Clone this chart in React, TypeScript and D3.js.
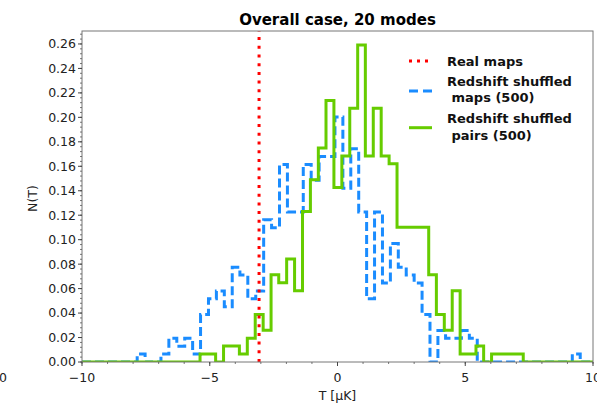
import React from 'react';
import * as d3 from 'd3';

// ---- data ----
const title = 'Overall case, 20 modes';
const xLabel = 'T [\u03bcK]';
const yLabel = 'N(T)';
const xTicks = [-10, -5, 0, 5, 10];
const xTickLabels = ['\u221210', '\u22125', '0', '5', '10'];
const yTicks = [0, 0.02, 0.04, 0.06, 0.08, 0.1, 0.12, 0.14, 0.16, 0.18, 0.2, 0.22, 0.24, 0.26];
const yTickLabels = ['0.00', '0.02', '0.04', '0.06', '0.08', '0.10', '0.12', '0.14', '0.16', '0.18', '0.20', '0.22', '0.24', '0.26'];
const histRange = [-10, 10];
const realMapT = -3.07;

// Redshift shuffled maps (500) - dashed blue step histogram
const mapsEdges = [-7.84, -7.53, -7.22, -6.91, -6.6, -6.29, -5.98, -5.67, -5.36, -5.05, -4.74, -4.43, -4.12, -3.82, -3.51, -3.2, -2.89, -2.58, -2.27, -1.96, -1.65, -1.34, -1.03, -0.72, -0.41, -0.1, 0.21, 0.52, 0.83, 1.14, 1.45, 1.76, 2.07, 2.38, 2.69, 3.0, 3.31, 3.62, 3.93, 4.23, 4.54, 4.85, 5.16, 5.47, 5.78, 6.09, 6.4, 6.71, 7.02, 7.33, 7.64, 7.95, 8.26, 8.57, 8.88, 9.19, 9.5];
const mapsDensity = [0.0065, 0, 0, 0.0065, 0.0194, 0.0129, 0.0194, 0.0065, 0.0388, 0.0517, 0.0581, 0.0452, 0.0775, 0.0711, 0.0517, 0.0581, 0.1163, 0.1098, 0.1615, 0.1227, 0.1227, 0.1615, 0.1486, 0.168, 0.168, 0.2003, 0.1421, 0.1744, 0.1227, 0.0517, 0.1227, 0.0646, 0.0969, 0.0775, 0.0711, 0.0646, 0.0388, 0, 0.0258, 0.0194, 0.0194, 0.0258, 0.0194, 0, 0, 0, 0, 0, 0, 0, 0, 0, 0, 0, 0, 0.0065];

// Redshift shuffled pairs (500) - solid green step histogram
const pairsEdges = [-5.38, -5.07, -4.77, -4.46, -4.15, -3.84, -3.53, -3.22, -2.91, -2.6, -2.3, -1.99, -1.68, -1.37, -1.06, -0.75, -0.45, -0.14, 0.17, 0.48, 0.79, 1.09, 1.4, 1.71, 2.02, 2.33, 2.64, 2.95, 3.26, 3.57, 3.87, 4.18, 4.49, 4.8, 5.11, 5.42, 5.72, 6.03, 6.34, 6.65, 6.96, 7.27];
const pairsDensity = [0.0065, 0.0065, 0, 0.013, 0.013, 0.0065, 0.0194, 0.0389, 0.0259, 0.0713, 0.0648, 0.0842, 0.0583, 0.1231, 0.149, 0.175, 0.2138, 0.1426, 0.1685, 0.2074, 0.2592, 0.1685, 0.2074, 0.1685, 0.162, 0.1102, 0.1102, 0.1102, 0.1102, 0.0713, 0.0389, 0.0259, 0.0583, 0.0065, 0.0065, 0.013, 0, 0.0065, 0.0065, 0.0065, 0.0065];

const legendLabels = [['Real maps'], ['Redshift shuffled', ' maps (500)'], ['Redshift shuffled', ' pairs (500)']];

const W = 597;
const H = 405;
const M = { left: 82, right: 593, top: 31, bottom: 362 };
const FONT = '"DejaVu Sans", sans-serif';
const RED = '#ff0000';
const BLUE = '#1a8cff';
const GREEN = '#66cc00';

export default function App() {
  const x = d3.scaleLinear().domain([-10, 10]).range([M.left, M.right]);
  const y = d3.scaleLinear().domain([0, 0.2706]).range([M.bottom, M.top]);

  const stepPath = (edges: number[], vals: number[]) => {
    const pts: [number, number][] = [];
    pts.push([x(histRange[0]), y(0)]);
    pts.push([x(edges[0]), y(0)]);
    vals.forEach((v, i) => {
      pts.push([x(edges[i]), y(v)]);
      pts.push([x(edges[i + 1]), y(v)]);
    });
    pts.push([x(edges[edges.length - 1]), y(0)]);
    pts.push([x(histRange[1]), y(0)]);
    return d3.line()(pts) || '';
  };

  const yMinor = d3.range(0, 0.2706, 0.004);
  const xMinor = d3.range(-10, 10.01, 1);

  const legX0 = 409;
  const legX1 = 432;
  const legTX = 447;

  return (
    <svg width={W} height={H} style={{ position: 'absolute', left: 0, top: 0, background: '#fff' }} fontFamily={FONT}>
      <rect x={0} y={0} width={W} height={H} fill="#fff" />
      <text x={-1} y={382} fontSize={12.5} textAnchor="middle" fill="#222">10</text>
      <defs>
        <clipPath id="plotclip">
          <rect x={M.left} y={M.top} width={M.right - M.left} height={M.bottom - M.top} />
        </clipPath>
      </defs>
      <g clipPath="url(#plotclip)">
        <path d={stepPath(mapsEdges, mapsDensity)} fill="none" stroke={BLUE} strokeWidth={3} strokeDasharray="9 4" strokeLinejoin="miter" />
        <path d={stepPath(pairsEdges, pairsDensity)} fill="none" stroke={GREEN} strokeWidth={3} strokeLinejoin="miter" />
        <line x1={x(realMapT)} x2={x(realMapT)} y1={M.bottom} y2={M.top} stroke={RED} strokeWidth={3} strokeDasharray="3 5.7" />
      </g>
      {/* frame */}
      <rect x={M.left} y={M.top} width={M.right - M.left} height={M.bottom - M.top} fill="none" stroke="#777" strokeWidth={1} />
      {/* y ticks */}
      {yMinor.map((t, i) => (
        <line key={'ym' + i} x1={M.left - 2} x2={M.left} y1={y(t)} y2={y(t)} stroke="#555" strokeWidth={0.8} />
      ))}
      {yTicks.map((t, i) => (
        <g key={'y' + i}>
          <line x1={M.left - 4} x2={M.left} y1={y(t)} y2={y(t)} stroke="#444" strokeWidth={1} />
          <text x={M.left - 6} y={y(t)} dy="0.35em" fontSize={12.5} textAnchor="end" fill="#222">{yTickLabels[i]}</text>
        </g>
      ))}
      {/* x ticks */}
      {xMinor.map((t, i) => (
        <line key={'xm' + i} x1={x(t)} x2={x(t)} y1={M.bottom} y2={M.bottom + 2} stroke="#555" strokeWidth={0.8} />
      ))}
      {xTicks.map((t, i) => (
        <g key={'x' + i}>
          <line x1={x(t)} x2={x(t)} y1={M.bottom} y2={M.bottom + 4} stroke="#444" strokeWidth={1} />
          <text x={x(t)} y={382} fontSize={12.5} textAnchor="middle" fill="#222">{xTickLabels[i]}</text>
        </g>
      ))}
      <text x={(M.left + M.right) / 2} y={400} fontSize={12.5} textAnchor="middle" fill="#222">{xLabel}</text>
      <text transform={`translate(37,${(M.top + M.bottom) / 2 + 2}) rotate(-90)`} fontSize={12.5} textAnchor="middle" fill="#222">{yLabel}</text>
      <text x={(M.left + M.right) / 2} y={25} fontSize={15} fontWeight="bold" textAnchor="middle" fill="#000">{title}</text>
      {/* legend */}
      <g fontSize={13} fontWeight="bold" fill="#111">
        <line x1={legX0} x2={legX1} y1={61} y2={61} stroke={RED} strokeWidth={3} strokeDasharray="3 5" />
        <text x={legTX} y={65.5}>{legendLabels[0][0]}</text>
        <line x1={legX0} x2={legX1} y1={91} y2={91} stroke={BLUE} strokeWidth={3} strokeDasharray="9 5" />
        <text x={legTX} y={86} style={{ whiteSpace: 'pre' }}>{legendLabels[1][0]}</text>
        <text x={legTX} y={102} style={{ whiteSpace: 'pre' }}>{legendLabels[1][1]}</text>
        <line x1={legX0} x2={legX1} y1={127.7} y2={127.7} stroke={GREEN} strokeWidth={3} />
        <text x={legTX} y={122.5} style={{ whiteSpace: 'pre' }}>{legendLabels[2][0]}</text>
        <text x={legTX} y={139.5} style={{ whiteSpace: 'pre' }}>{legendLabels[2][1]}</text>
      </g>
    </svg>
  );
}
